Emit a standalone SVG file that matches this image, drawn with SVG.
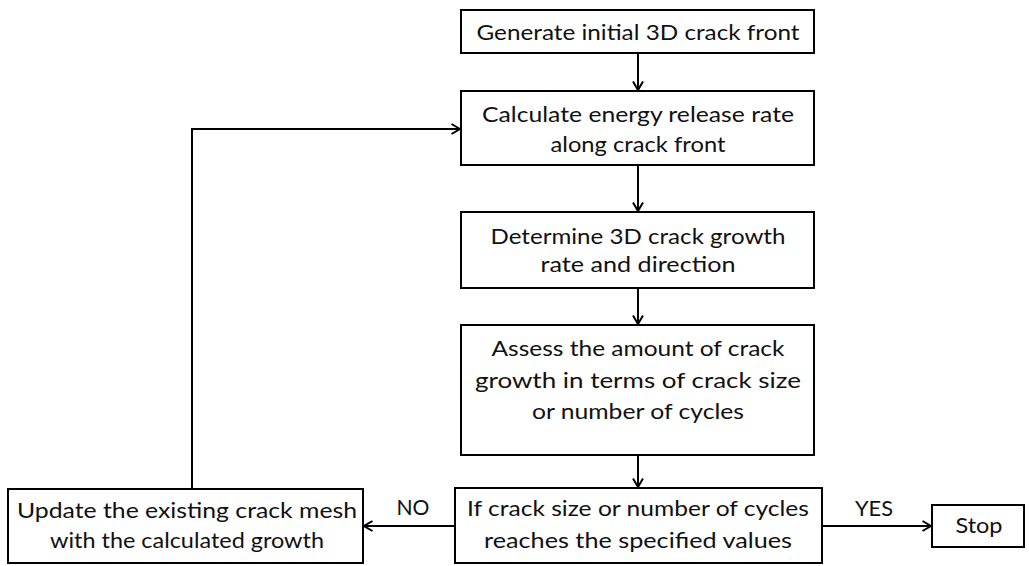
<svg xmlns="http://www.w3.org/2000/svg" width="1029" height="566" viewBox="0 0 1029 566">
<style>
.box{fill:#fff;stroke:#000;stroke-width:2}
.t{font-family:Lato,"Liberation Sans",Arial,sans-serif;font-size:22px;fill:#111;text-anchor:middle}
.c{fill:none;stroke:#000;stroke-width:2}
</style>
<defs>
<marker id="ah" viewBox="0 0 10 12" refX="9.5" refY="6" markerWidth="10" markerHeight="12" markerUnits="userSpaceOnUse" orient="auto">
<path d="M1,1 L9.5,6 L1,11" fill="none" stroke="#000" stroke-width="2"/>
</marker>
</defs>
<rect width="1029" height="566" fill="#fff"/>
<g id="connectors">
<line class="c" x1="638" y1="53" x2="638" y2="90" marker-end="url(#ah)"/>
<line class="c" x1="638" y1="165" x2="638" y2="211" marker-end="url(#ah)"/>
<line class="c" x1="638" y1="288" x2="638" y2="324" marker-end="url(#ah)"/>
<line class="c" x1="638" y1="455" x2="638" y2="487" marker-end="url(#ah)"/>
<line class="c" x1="455" y1="526" x2="364" y2="526" marker-end="url(#ah)"/>
<line class="c" x1="822" y1="526" x2="931" y2="526" marker-end="url(#ah)"/>
<polyline class="c" points="192,489 192,129 460,129" marker-end="url(#ah)"/>
<text class="t" x="413" y="515" textLength="33" lengthAdjust="spacingAndGlyphs">NO</text>
<text class="t" x="874" y="516" textLength="38" lengthAdjust="spacingAndGlyphs">YES</text>
</g>
<g id="n1">
<rect class="box" x="461" y="10" width="353" height="43"/>
<text class="t" x="638" y="40" textLength="323" lengthAdjust="spacingAndGlyphs">Generate initial 3D crack front</text>
</g>
<g id="n2">
<rect class="box" x="461" y="91" width="353" height="74"/>
<text class="t" x="638" y="122" textLength="312" lengthAdjust="spacingAndGlyphs">Calculate energy release rate</text>
<text class="t" x="638" y="152" textLength="175" lengthAdjust="spacingAndGlyphs">along crack front</text>
</g>
<g id="n3">
<rect class="box" x="461" y="212" width="353" height="76"/>
<text class="t" x="638" y="244" textLength="295" lengthAdjust="spacingAndGlyphs">Determine 3D crack growth</text>
<text class="t" x="638" y="272" textLength="195" lengthAdjust="spacingAndGlyphs">rate and direction</text>
</g>
<g id="n4">
<rect class="box" x="461" y="325" width="353" height="130"/>
<text class="t" x="638" y="356" textLength="293" lengthAdjust="spacingAndGlyphs">Assess the amount of crack</text>
<text class="t" x="638" y="388" textLength="326" lengthAdjust="spacingAndGlyphs">growth in terms of crack size</text>
<text class="t" x="638" y="419" textLength="212" lengthAdjust="spacingAndGlyphs">or number of cycles</text>
</g>
<g id="n5">
<rect class="box" x="455" y="488" width="367" height="75"/>
<text class="t" x="638" y="516" textLength="342" lengthAdjust="spacingAndGlyphs">If crack size or number of cycles</text>
<text class="t" x="638" y="548" textLength="308" lengthAdjust="spacingAndGlyphs">reaches the specified values</text>
</g>
<g id="n6">
<rect class="box" x="8" y="489" width="355" height="74"/>
<text class="t" x="187" y="518" textLength="340" lengthAdjust="spacingAndGlyphs">Update the existing crack mesh</text>
<text class="t" x="187" y="548" textLength="274" lengthAdjust="spacingAndGlyphs">with the calculated growth</text>
</g>
<g id="n7">
<rect class="box" x="932" y="505" width="92" height="42"/>
<text class="t" x="979" y="533" textLength="47" lengthAdjust="spacingAndGlyphs">Stop</text>
</g>
</svg>
